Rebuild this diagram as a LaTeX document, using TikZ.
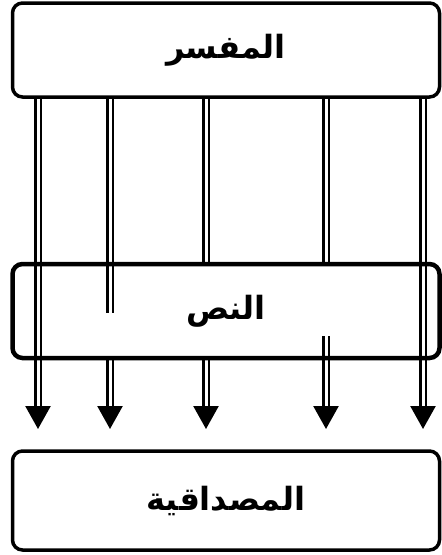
\documentclass[tikz,border=0pt]{standalone}
\usepackage{fontspec}
\newfontfamily\arabicfont[Script=Arabic]{DejaVu Sans}
\TeXXeTstate=1
\usetikzlibrary{positioning,arrows.meta,backgrounds}

\begin{document}
\begin{tikzpicture}[
	x=1pt, y=-1pt,
	font=\arabicfont\bfseries\fontsize{32}{36}\selectfont,
	stage/.style={
		draw,
		rounded corners=10pt,
		line width=3.5pt,
		minimum width=427pt,
		minimum height=94pt,
		inner sep=0pt,
		outer sep=0pt,
	},
	rel/.style={double, line width=2.5pt, double distance=3pt},
	tip/.style={-{Triangle[width=25pt, length=23pt]}, shorten >=22pt},
]
\useasboundingbox (0,0) rectangle (442,555);

\node[stage] (reader) at (226,50) {\beginR المفسر\endR};
\node[stage, line width=4.5pt, below=167pt of reader] (text) {\beginR النص\endR};
\node[stage, minimum height=99pt, below=93pt of text] (match) {\beginR المصداقية\endR};

% خطوط القراءة تمر خلف الصناديق
\begin{scope}[on background layer]
\foreach \dx in {-188,197}
	\draw[rel, tip] ([xshift=\dx pt]reader.south) -- ([xshift=\dx pt]match.north);

\foreach \dx in {-20,100}
	\draw[rel] ([xshift=\dx pt]reader.south) -- ([xshift=\dx pt]text.north);
\draw[rel, tip] ([xshift=-20pt]text.south) -- ([xshift=-20pt]match.north);

\coordinate (stopA) at ([xshift=-116pt, yshift=-2pt]text.center);
\draw[rel] ([xshift=-116pt]reader.south) -- (stopA);
\draw[rel, tip] ([xshift=-116pt]text.south) -- ([xshift=-116pt]match.north);

\coordinate (startB) at ([xshift=100pt, yshift=-25pt]text.center);
\draw[rel, tip] (startB) -- ([xshift=100pt]match.north);
\end{scope}

\end{tikzpicture}
\end{document}
